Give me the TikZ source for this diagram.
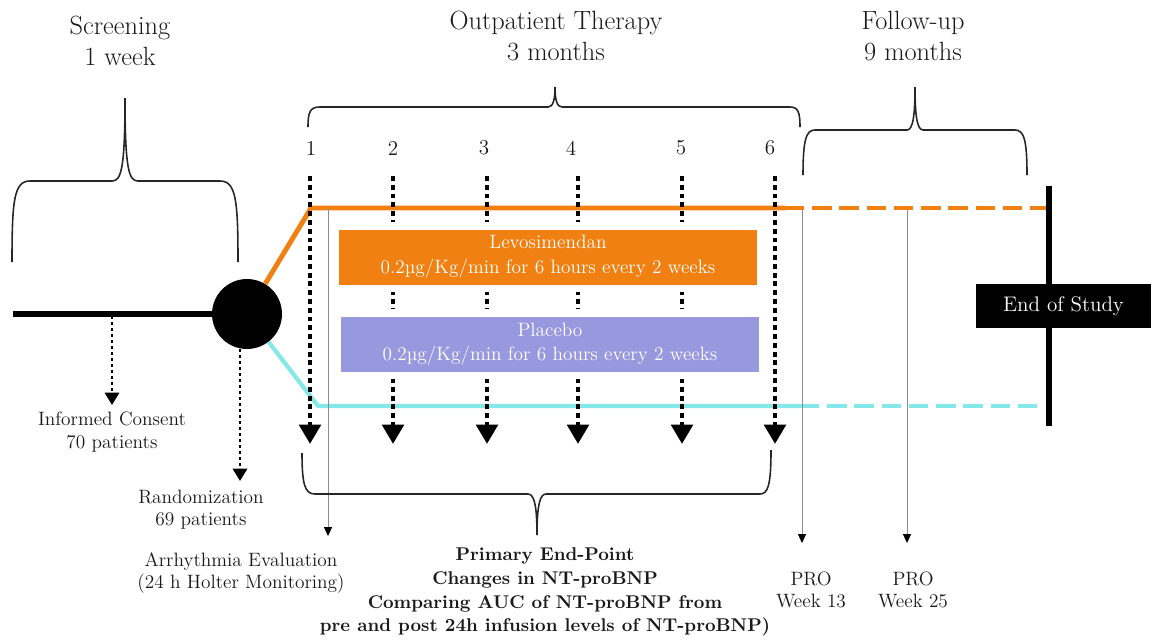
\documentclass[tikz,border=0pt]{standalone}
\usepackage{amsmath}
\usepackage[dvipsnames]{xcolor}
\usetikzlibrary{arrows.meta,positioning}
\definecolor{LevoOrange}{RGB}{240,128,18}
\definecolor{PlaceboBlue}{RGB}{152,152,222}
\definecolor{ArmCyan}{RGB}{132,232,232}
\begin{document}
\begin{tikzpicture}[x=0.02cm,y=-0.02cm]
		\useasboundingbox (0,0) rectangle (1151,643);
		\tikzset{HeadStyle/.style = {align=center, text=black!90, font=\fontsize{15}{18}\selectfont},
			NoteStyle/.style = {align=center, text=black!90, font=\fontsize{11}{12.6}\selectfont},
			BraceStyle/.style = {line width=0.9pt, black!85},
			VisitStyle/.style = {line width=2.8pt, dash pattern=on 2.8pt off 2.2pt, -{Triangle[width=12pt,length=11pt]}},
			StepStyle/.style = {line width=1.7pt, dash pattern=on 1.7pt off 1.7pt, -{Triangle[width=8pt,length=7pt]}},
			ThinStyle/.style = {line width=0.4pt, black!45, -{Triangle[width=4.5pt,length=5pt,color=black]}},
			ArmStyle/.style = {line width=2.8pt, line join=round},
			ArmBox/.style = {minimum width=8.36cm+4.4pt, minimum height=1.1cm+4.4pt, draw=white, line width=4.4pt,
				align=center, text=white, font=\fontsize{11}{14}\selectfont}}
		% screening and randomization
		\coordinate (bl) at (13,314);
		\node[circle, fill=black, inner sep=0pt, minimum size=1.4cm] (randc) at (247,314) {};
		\draw[line width=3.2pt] (bl) -- (randc);
		\coordinate (ic) at (112,316);
		\coordinate (ictip) at (112,405);
		\draw[StepStyle] (ic) -- (ictip);
		\node[NoteStyle] (consent) at (112,432) {Informed Consent\\70 patients};
		\coordinate (rtip) at (240,481);
		\draw[StepStyle] (rtip |- randc.south) -- (rtip);
		\node[NoteStyle] (random) at (201,510) {Randomization\\69 patients};
		% the two arms
		\coordinate (o1) at (311,208);
		\coordinate (o2) at (785,208);
		\coordinate (o3) at (1048,208);
		\draw[ArmStyle, LevoOrange] (randc) -- (o1) -- (o2);
		\draw[ArmStyle, LevoOrange, dash pattern=on 11pt off 4.5pt] (o2) -- (o3);
		\coordinate (c1) at (318,406);
		\coordinate (c2) at (800,406);
		\coordinate (c3) at (1038,406);
		\draw[ArmStyle, ArmCyan, line width=2.4pt] (randc) -- (c1) -- (c2);
		\draw[ArmStyle, ArmCyan, line width=2.4pt, dash pattern=on 11pt off 4.5pt] (c2) -- (c3);
		% thin evaluation arrows
		\coordinate (a1top) at (328,208);
		\coordinate (a1tip) at (328,536);
		\draw[ThinStyle] (a1top) -- (a1tip);
		\node[NoteStyle] (arrhythmia) at (241,573) {Arrhythmia Evaluation\\(24 h Holter Monitoring)};
		\coordinate (p13top) at (802,210);
		\coordinate (p13tip) at (802,543);
		\draw[ThinStyle] (p13top) -- (p13tip);
		\node[NoteStyle] (pro13) at (811,590) {PRO\\Week 13};
		\coordinate (p25top) at (907,210);
		\coordinate (p25tip) at (907,543);
		\draw[ThinStyle] (p25top) -- (p25tip);
		\node[NoteStyle] (pro25) at (913,590) {PRO\\Week 25};
		% infusion visits
		\foreach \x/\lx/\n in {310/311/1, 393/393/2, 487/484/3, 578/571/4, 682/681/5, 775/770/6}{
			\node[NoteStyle, font=\fontsize{12}{14}\selectfont] (num\n) at (\lx,148) {\n};
			\coordinate (v\n top) at (\x,176);
			\coordinate (v\n tip) at (\x,444);
			\draw[VisitStyle] (v\n top) -- (v\n tip);
		}
		\node[ArmBox, fill=LevoOrange] (levo) at (548,257) {Levosimendan\\0.2µg/Kg/min for 6 hours every 2 weeks};
		\node[ArmBox, fill=PlaceboBlue] (placebo) at (550,344) {Placebo\\0.2µg/Kg/min for 6 hours every 2 weeks};
		% end of study
		\coordinate (etop) at (1049,186);
		\coordinate (ebot) at (1049,426);
		\draw[line width=3.4pt] (etop) -- (ebot);
		\node[fill=black, text=white, minimum width=3.5cm, minimum height=0.88cm,
			font=\fontsize{12}{14}\selectfont] (eos) at (1063.5,306) {End of Study};
		% braces
		\draw[BraceStyle] (12,262) .. controls (12,200) and (14,181) .. (30,181) -- (112,181)
			.. controls (121,181) and (125,170) .. (125,98) .. controls (125,170) and (129,181) .. (138,181)
			-- (220,181) .. controls (236,181) and (238,200) .. (238,262);
		\draw[BraceStyle] (308,127) .. controls (308,112) and (310,107) .. (320,107) -- (548,107)
			.. controls (553,107) and (555,100) .. (555,87) .. controls (555,100) and (557,107) .. (562,107)
			-- (790,107) .. controls (798,107) and (800,112) .. (800,127);
		\draw[BraceStyle] (803,175) .. controls (803,140) and (806,130) .. (815,130) -- (907,130)
			.. controls (913,130) and (915,115) .. (915,87) .. controls (915,115) and (917,130) .. (923,130)
			-- (1015,130) .. controls (1024,130) and (1027,140) .. (1027,175);
		\draw[BraceStyle] (302,453) .. controls (302,485) and (305,494) .. (315,494) -- (528,494)
			.. controls (534,494) and (537,505) .. (537,535) .. controls (537,505) and (540,494) .. (546,494)
			-- (760,494) .. controls (768,494) and (771,485) .. (771,450);
		% phase headings
		\node[HeadStyle] (screening) at (120,41) {Screening\\1 week};
		\node[HeadStyle] (therapy) at (556,36) {Outpatient Therapy\\3 months};
		\node[HeadStyle] (followup) at (913,36) {Follow-up\\9 months};
		\node[NoteStyle, font=\bfseries\fontsize{10.5}{13.6}\selectfont] (primary) at (545,592)
			{Primary End-Point\\Changes in NT-proBNP\\Comparing AUC of NT-proBNP from\\pre and post 24h infusion levels of NT-proBNP)};
\end{tikzpicture}
\end{document}
